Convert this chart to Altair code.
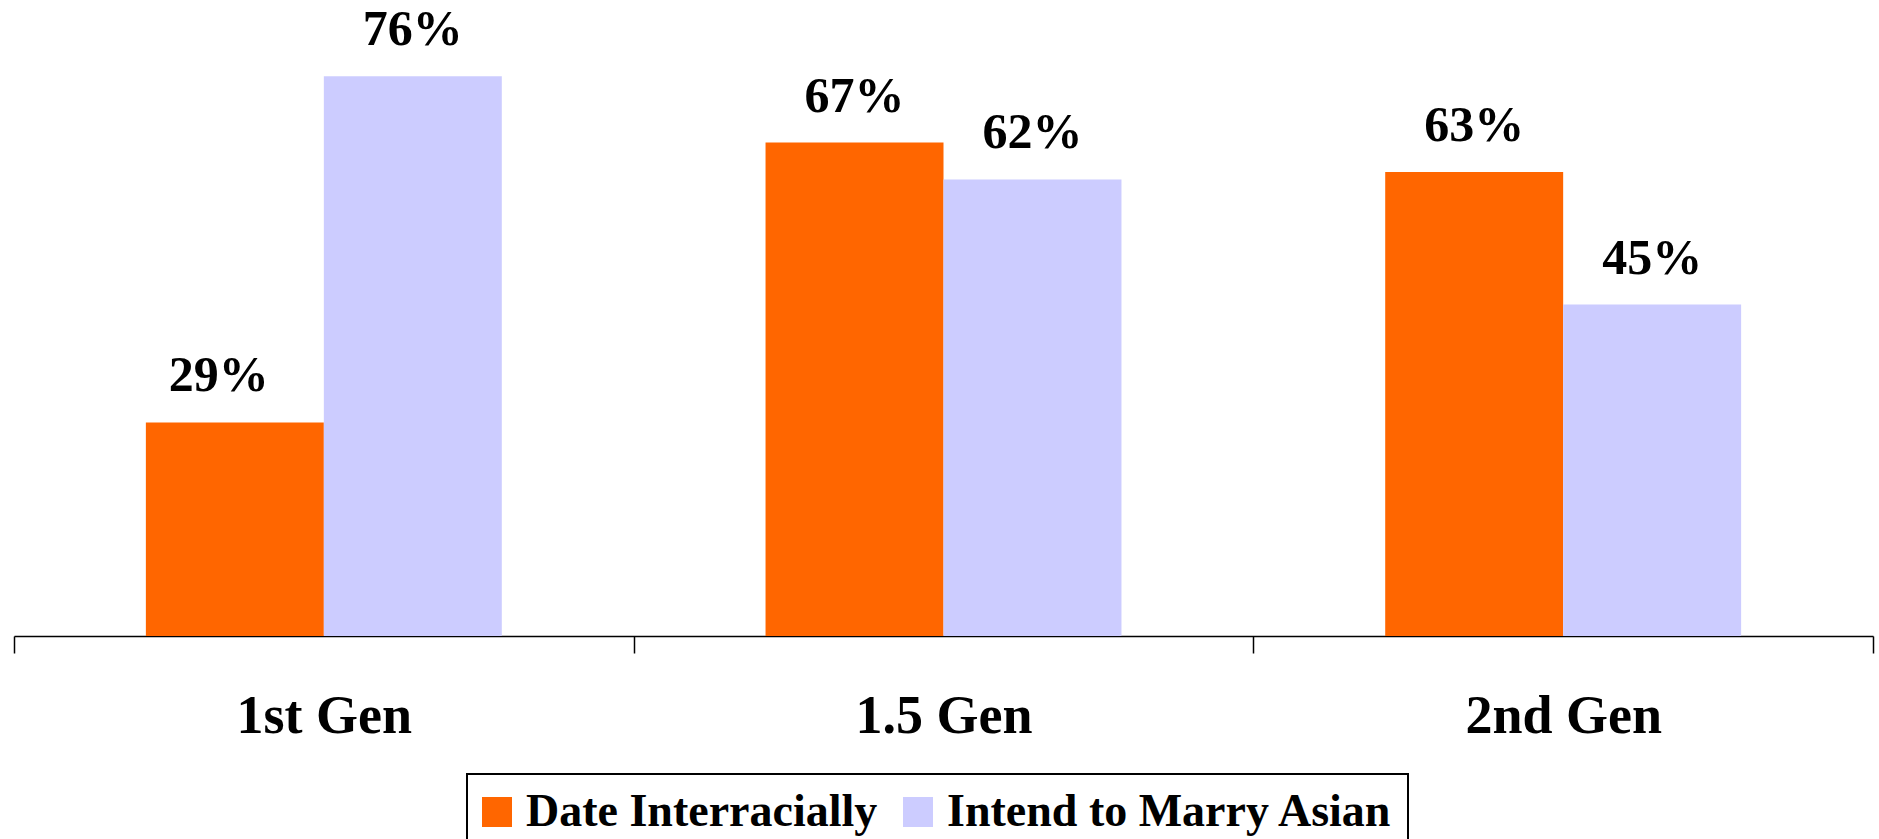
import altair as alt
import pandas as pd

generations = ["1st Gen", "1.5 Gen", "2nd Gen"]
series = ["Date Interracially", "Intend to Marry Asian"]
date_interracially = [29, 67, 63]
intend_to_marry_asian = [76, 62, 45]
colors = ["#FF6600", "#CCCCFF"]

rows = []
for g, a, b in zip(generations, date_interracially, intend_to_marry_asian):
    rows.append({"gen": g, "series": series[0], "value": a})
    rows.append({"gen": g, "series": series[1], "value": b})
df = pd.DataFrame(rows)

FONT = "Liberation Serif"

x = alt.X(
    "gen:N",
    sort=generations,
    scale=alt.Scale(paddingInner=0, paddingOuter=0),
    axis=alt.Axis(
        title=None,
        labelAngle=0,
        labelFont=FONT,
        labelFontSize=54,
        labelFontWeight="bold",
        labelColor="black",
        labelPadding=36,
        labelLimit=0,
        tickSize=17,
        tickBand="extent",
        tickColor="black",
        tickWidth=1.5,
        domainColor="black",
        domainWidth=1.5,
    ),
)
xo = alt.XOffset(
    "series:N", sort=series, scale=alt.Scale(paddingInner=0, paddingOuter=0.741)
)
y = alt.Y("value:Q", scale=alt.Scale(domain=[0, 86.36], nice=False, zero=True), axis=None)

base = alt.Chart(df).transform_calculate(label="datum.value + '%'")

bars = base.mark_bar(strokeWidth=0).encode(
    x=x,
    xOffset=xo,
    y=y,
    color=alt.Color(
        "series:N",
        sort=series,
        scale=alt.Scale(domain=series, range=colors),
        legend=alt.Legend(
            title=None,
            orient="none",
            legendX=453,
            legendY=774,
            direction="horizontal",
        ),
    ),
)

is_shifted = "datum.gen == '1st Gen' && datum.series == 'Date Interracially'"

text_main = base.transform_filter("!(" + is_shifted + ")").mark_text(
    font=FONT, fontSize=50, fontWeight="bold", color="black",
    baseline="alphabetic", dy=-31,
).encode(x=x, xOffset=xo, y=y, text="label:N")

text_shift = base.transform_filter(is_shifted).mark_text(
    font=FONT, fontSize=50, fontWeight="bold", color="black",
    baseline="alphabetic", dy=-31, dx=-16,
).encode(x=x, xOffset=xo, y=y, text="label:N")

chart = (
    alt.layer(bars, text_main, text_shift)
    .properties(
        width=1859,
        height=636,
        autosize=alt.AutoSizeParams(type="none"),
        padding={"left": 14, "top": 0, "right": 6, "bottom": 203},
        background="white",
    )
    .configure_view(strokeWidth=0)
    .configure_legend(
        strokeColor="black",
        strokeWidth=2,
        padding=15,
        symbolType="square",
        symbolSize=900,
        symbolStrokeWidth=0,
        symbolOpacity=1,
        symbolOffset=-8,
        labelFont=FONT,
        labelFontSize=46,
        labelFontWeight="bold",
        labelColor="black",
        labelOffset=6,
        labelLimit=0,
        columnPadding=25,
    )
)

chart.save("out.html", embed_options={"renderer": "svg", "actions": False})
